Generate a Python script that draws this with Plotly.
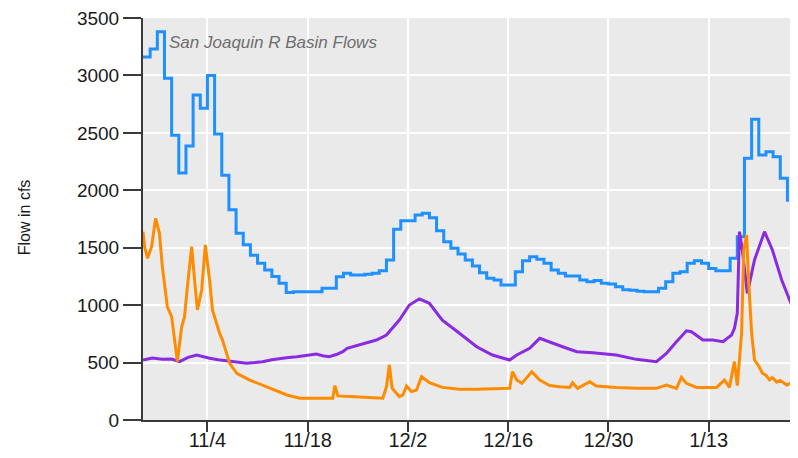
import pandas as pd
import plotly.graph_objects as go

start = pd.Timestamp("2021-10-26")

# Daily basin flow (blue, stepped)
basin_flow = [3160, 3230, 3380, 2975, 2480, 2150, 2385, 2830, 2715, 3000,
              2490, 2130, 1830, 1625, 1525, 1435, 1365, 1305, 1250, 1190,
              1110, 1117, 1117, 1117, 1117, 1146, 1146, 1248, 1277, 1262,
              1262, 1270, 1277, 1300, 1393, 1660, 1735, 1735, 1785, 1800,
              1760, 1648, 1552, 1495, 1445, 1393, 1341, 1283, 1234, 1219,
              1175, 1175, 1291, 1387, 1422, 1399, 1364, 1306, 1277, 1254,
              1254, 1219, 1204, 1215, 1190, 1185, 1161, 1135, 1130, 1120,
              1117, 1117, 1146, 1204, 1277, 1291, 1364, 1387, 1364, 1320,
              1300, 1300, 1408, 1596, 2278, 2618, 2307, 2336, 2292, 2104, 1900]

# Purple series: day offset from start, flow
purple_day = [0.0, 1.3, 2.7, 4.0, 5.1, 6.3, 7.5, 8.4, 9.3, 10.5, 11.7, 13.0, 14.5,
              15.6, 16.7, 18.0, 19.1, 20.3, 21.5, 22.8, 24.2, 25.1, 26.0, 27.0,
              27.9, 28.5, 30.3, 31.5, 32.6, 34.0, 35.4, 35.8, 37.2, 38.6, 40.0,
              41.8, 44.2, 46.6, 48.8, 51.2, 52.2, 54.0, 55.4, 56.8, 58.6, 60.6,
              62.8, 66.1, 68.9, 71.7, 73.1, 74.5, 75.9, 76.6, 78.2, 79.6, 81.0,
              82.2, 82.6, 83.0, 83.3, 83.7, 84.4, 85.4, 86.8, 87.9, 89.2, 90.3, 91.3]
purple_flow = [522, 540, 528, 530, 508, 545, 566, 550, 537, 525, 514, 505, 494,
               500, 508, 525, 537, 545, 551, 565, 575, 560, 551, 570,
               595, 624, 653, 675, 696, 740, 842, 870, 1001, 1055, 1016,
               870, 755, 638, 566, 522, 566, 624, 711, 682, 638, 595,
               586, 566, 528, 508, 580, 682, 777, 769, 696, 696, 682,
               740, 798, 929, 1640, 1480, 1103, 1393, 1640, 1480, 1219, 1045, 899]

# Orange series: day offset from start, flow
orange_day = [0.0, 0.22, 0.64, 1.2, 1.76, 2.3, 2.7, 3.4, 4.0, 4.8, 5.4, 5.8, 6.2,
              6.8, 7.2, 7.6, 8.2, 8.7, 9.3, 9.7, 10.7, 11.1, 12.1, 13.1, 14.9,
              17.7, 20.1, 21.9, 26.5, 26.8, 27.2, 30.2, 33.5, 34.0, 34.4, 34.8,
              35.8, 36.3, 36.8, 37.5, 38.2, 38.9, 40.0, 41.8, 44.2, 46.6, 48.8,
              51.2, 51.6, 52.2, 52.9, 54.3, 55.4, 56.8, 58.2, 59.6, 60.0, 60.7,
              62.4, 63.3, 66.1, 68.9, 71.7, 73.1, 74.5, 75.2, 75.9, 77.3, 80.1,
              81.2, 81.9, 82.6, 83.0, 83.6, 83.9, 84.3, 84.6, 85.0, 85.4, 86.0,
              86.5, 87.0, 87.5, 87.9, 88.5, 89.0, 89.9, 90.5, 91.3]
orange_flow = [1640, 1509, 1408, 1509, 1756, 1625, 1335, 986, 899, 508, 812, 899, 1161,
               1509, 1219, 958, 1132, 1524, 1219, 958, 755, 696, 494, 407, 348,
               276, 218, 189, 189, 300, 210, 200, 189, 290, 479, 276,
               203, 218, 295, 247, 261, 377, 325, 284, 267, 267, 270,
               276, 421, 348, 319, 421, 348, 300, 290, 284, 325, 276,
               334, 296, 284, 276, 276, 305, 276, 372, 319, 284, 284,
               348, 284, 508, 300, 757, 1480, 1610, 1193, 757, 522, 470,
               407, 390, 350, 370, 330, 345, 305, 320, 305]

basin_dates = [start + pd.Timedelta(days=i) for i in range(len(basin_flow))]
purple_dates = start + pd.to_timedelta(purple_day, unit="D")
orange_dates = start + pd.to_timedelta(orange_day, unit="D")

fig = go.Figure()
fig.add_trace(go.Scatter(x=basin_dates, y=basin_flow, mode="lines",
                         line=dict(color="#1E90FF", width=3, shape="hv")))
fig.add_trace(go.Scatter(x=purple_dates, y=purple_flow, mode="lines",
                         line=dict(color="#8A2BE2", width=3)))
fig.add_trace(go.Scatter(x=orange_dates, y=orange_flow, mode="lines",
                         line=dict(color="#FF8C00", width=3)))

axis_col = "#3a3a3a"
# page body adds an 8px margin, so the figure is sized/offset to compensate
fig.update_layout(
    width=782, height=442,
    margin=dict(l=135, r=0, t=10, b=30, autoexpand=False),
    paper_bgcolor="white",
    plot_bgcolor="#EAEAEA",
    showlegend=False,
    font=dict(family="Liberation Sans, Arial, sans-serif", color="#1a1a1a"),
    xaxis=dict(
        type="date",
        range=[start, start + pd.Timedelta(days=90.36)],
        tick0="2021-11-04", dtick=14 * 86400000, tickformat="%-m/%-d",
        showline=True, linecolor=axis_col, linewidth=2,
        ticks="outside", ticklen=10, tickwidth=2, tickcolor=axis_col,
        tickfont=dict(size=20, family="Liberation Sans Narrow, Arial Narrow, sans-serif"),
        ticklabeloverflow="allow", ticklabelstandoff=-9, automargin=False,
        showgrid=True, gridcolor="white", gridwidth=2, zeroline=False,
    ),
    yaxis=dict(
        range=[0, 3500], dtick=500,
        showline=True, linecolor=axis_col, linewidth=2,
        ticks="outside", ticklen=18, tickwidth=2, tickcolor=axis_col,
        tickfont=dict(size=19), ticklabeloverflow="allow", automargin=False,
        showgrid=True, gridcolor="white", gridwidth=2, zeroline=False,
    ),
    annotations=[
        dict(text="<i>San Joaquin R Basin Flows</i>", xref="paper", yref="paper",
             x=0.037, y=0.938, xanchor="left", yanchor="middle", showarrow=False,
             font=dict(size=17, color="#6e6e6e")),
        dict(text="Flow in cfs", xref="paper", yref="paper",
             x=-0.182, y=0.505, xanchor="center", yanchor="middle", showarrow=False,
             textangle=-90, font=dict(size=16, color="#1a1a1a")),
    ],
)

fig.write_html("out.html")
